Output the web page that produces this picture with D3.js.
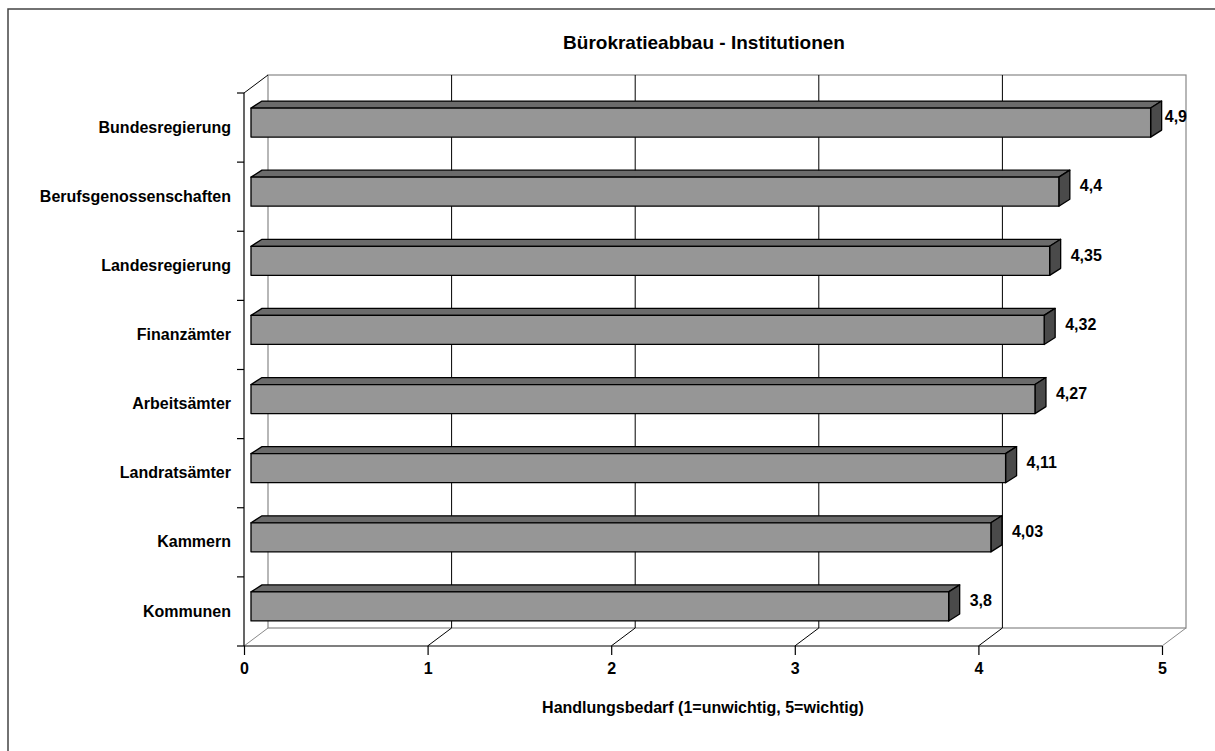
<!DOCTYPE html>
<html lang="de">
<head>
  <meta charset="UTF-8">
  <title>Bürokratieabbau - Institutionen</title>
  <script src="https://d3js.org/d3.v7.min.js"></script>
  <style>
    body { margin: 0; background: #fff; }
    text { font-family: "Liberation Sans", Arial, sans-serif; font-weight: bold; fill: #000; }
  </style>
</head>
<body>
  <svg width="1215" height="751"></svg>
  <script>
    // data
    const categories = ["Bundesregierung", "Berufsgenossenschaften", "Landesregierung", "Finanzämter",
                        "Arbeitsämter", "Landratsämter", "Kammern", "Kommunen"];
    const values = [4.9, 4.4, 4.35, 4.32, 4.27, 4.11, 4.03, 3.8];
    const xTicks = [0, 1, 2, 3, 4, 5];
    const title = "Bürokratieabbau - Institutionen";
    const xTitle = "Handlungsbedarf (1=unwichtig, 5=wichtig)";

    const svg = d3.select("svg");
    const de = d3.formatLocale({decimal: ",", thousands: ".", grouping: [3], currency: ["", " €"]});
    const fmt = de.format("~g");

    // 3d geometry
    const pLeft = 244, pRight = 1162, pTop = 93, pBottom = 646;
    const depth = {dx: 24, dy: -18};
    const barFront = {dx: 7, dy: -5};
    const barDepth = {dx: 11, dy: -7};

    const x = d3.scaleLinear().domain([0, 5]).range([pLeft, pRight]);
    const y = d3.scaleBand().domain(categories).range([pTop, pBottom]);
    const barH = y.bandwidth() * 0.42;

    const pts = a => a.map(p => p.join(",")).join(" ");

    // chart border
    svg.append("rect").attr("x", 8).attr("y", 9).attr("width", 1300).attr("height", 900)
       .attr("fill", "none").attr("stroke", "#444").attr("stroke-width", 1.5);

    // back wall
    svg.append("rect")
       .attr("x", pLeft + depth.dx).attr("y", pTop + depth.dy)
       .attr("width", pRight - pLeft).attr("height", pBottom - pTop)
       .attr("fill", "#fff").attr("stroke", "#888").attr("stroke-width", 1.2);

    // left wall top edge
    svg.append("line").attr("x1", pLeft).attr("y1", pTop).attr("x2", pLeft + depth.dx).attr("y2", pTop + depth.dy)
       .attr("stroke", "#000").attr("stroke-width", 1);

    // grid lines on back wall and floor
    xTicks.forEach(t => {
      const gx = x(t);
      const inner = t > 0 && t < 5;
      if (inner) {
        svg.append("line").attr("x1", gx + depth.dx).attr("x2", gx + depth.dx)
           .attr("y1", pTop + depth.dy).attr("y2", pBottom + depth.dy)
           .attr("stroke", "#000").attr("stroke-width", 1);
      }
      svg.append("line").attr("x1", gx).attr("y1", pBottom)
         .attr("x2", gx + depth.dx).attr("y2", pBottom + depth.dy)
         .attr("stroke", inner ? "#000" : "#888").attr("stroke-width", 1);
    });

    // bars
    const bars = svg.append("g");
    categories.forEach((c, i) => {
      const v = values[i];
      const x0 = x(0) + barFront.dx, x1 = x(v) + barFront.dx;
      const y0 = y(c) + y.bandwidth() / 2 + barFront.dy - barH / 2, y1 = y0 + barH;
      const dx = barDepth.dx, dy = barDepth.dy;
      const g = bars.append("g").attr("stroke", "#000").attr("stroke-width", 1.3).attr("stroke-linejoin", "round");
      g.append("polygon").attr("points", pts([[x0, y0], [x1, y0], [x1 + dx, y0 + dy], [x0 + dx, y0 + dy]]))
       .attr("fill", "#6b6b6b");
      g.append("polygon").attr("points", pts([[x1, y0], [x1 + dx, y0 + dy], [x1 + dx, y1 + dy], [x1, y1]]))
       .attr("fill", "#4a4a4a");
      g.append("rect").attr("x", x0).attr("y", y0).attr("width", x1 - x0).attr("height", barH)
       .attr("fill", "#969696");

      const lbl = bars.append("text").attr("font-size", 16)
         .attr("x", x1 + dx + 10).attr("y", y0 + 10).attr("dominant-baseline", "middle")
         .text(fmt(v));
      const w = lbl.node().getComputedTextLength();
      const maxX = x(5) + depth.dx + 1;
      if (x1 + dx + 10 + w > maxX) lbl.attr("x", maxX - w);
    });

    // y axis
    svg.append("line").attr("x1", pLeft).attr("x2", pLeft).attr("y1", pTop).attr("y2", pBottom)
       .attr("stroke", "#000").attr("stroke-width", 1.2);
    d3.range(categories.length + 1).forEach(i => {
      const ty = pTop + i * y.step();
      svg.append("line").attr("x1", pLeft - 7).attr("x2", pLeft).attr("y1", ty).attr("y2", ty)
         .attr("stroke", "#000").attr("stroke-width", 1.2);
    });
    const yAxis = svg.append("g").attr("transform", `translate(${pLeft},0)`)
       .call(d3.axisLeft(y).tickSize(0).tickPadding(13));
    yAxis.select(".domain").remove();
    yAxis.selectAll("text").attr("font-size", 16).attr("font-family", null);

    // x axis
    const xAxis = svg.append("g").attr("transform", `translate(0,${pBottom})`)
       .call(d3.axisBottom(x).tickValues(xTicks).tickSize(9).tickPadding(8).tickFormat(fmt));
    xAxis.select(".domain").attr("stroke", "#000").attr("stroke-width", 1.2).attr("d", `M${pLeft},0H${pRight}`);
    xAxis.selectAll(".tick line").attr("stroke", "#000").attr("stroke-width", 1.2);
    xAxis.selectAll("text").attr("font-size", 16).attr("font-family", null);

    // titles
    svg.append("text").attr("x", 704).attr("y", 44).attr("text-anchor", "middle")
       .attr("dominant-baseline", "middle").attr("font-size", 19).text(title);
    svg.append("text").attr("x", 703).attr("y", 709).attr("text-anchor", "middle")
       .attr("dominant-baseline", "middle").attr("font-size", 16).text(xTitle);
  </script>
</body>
</html>
